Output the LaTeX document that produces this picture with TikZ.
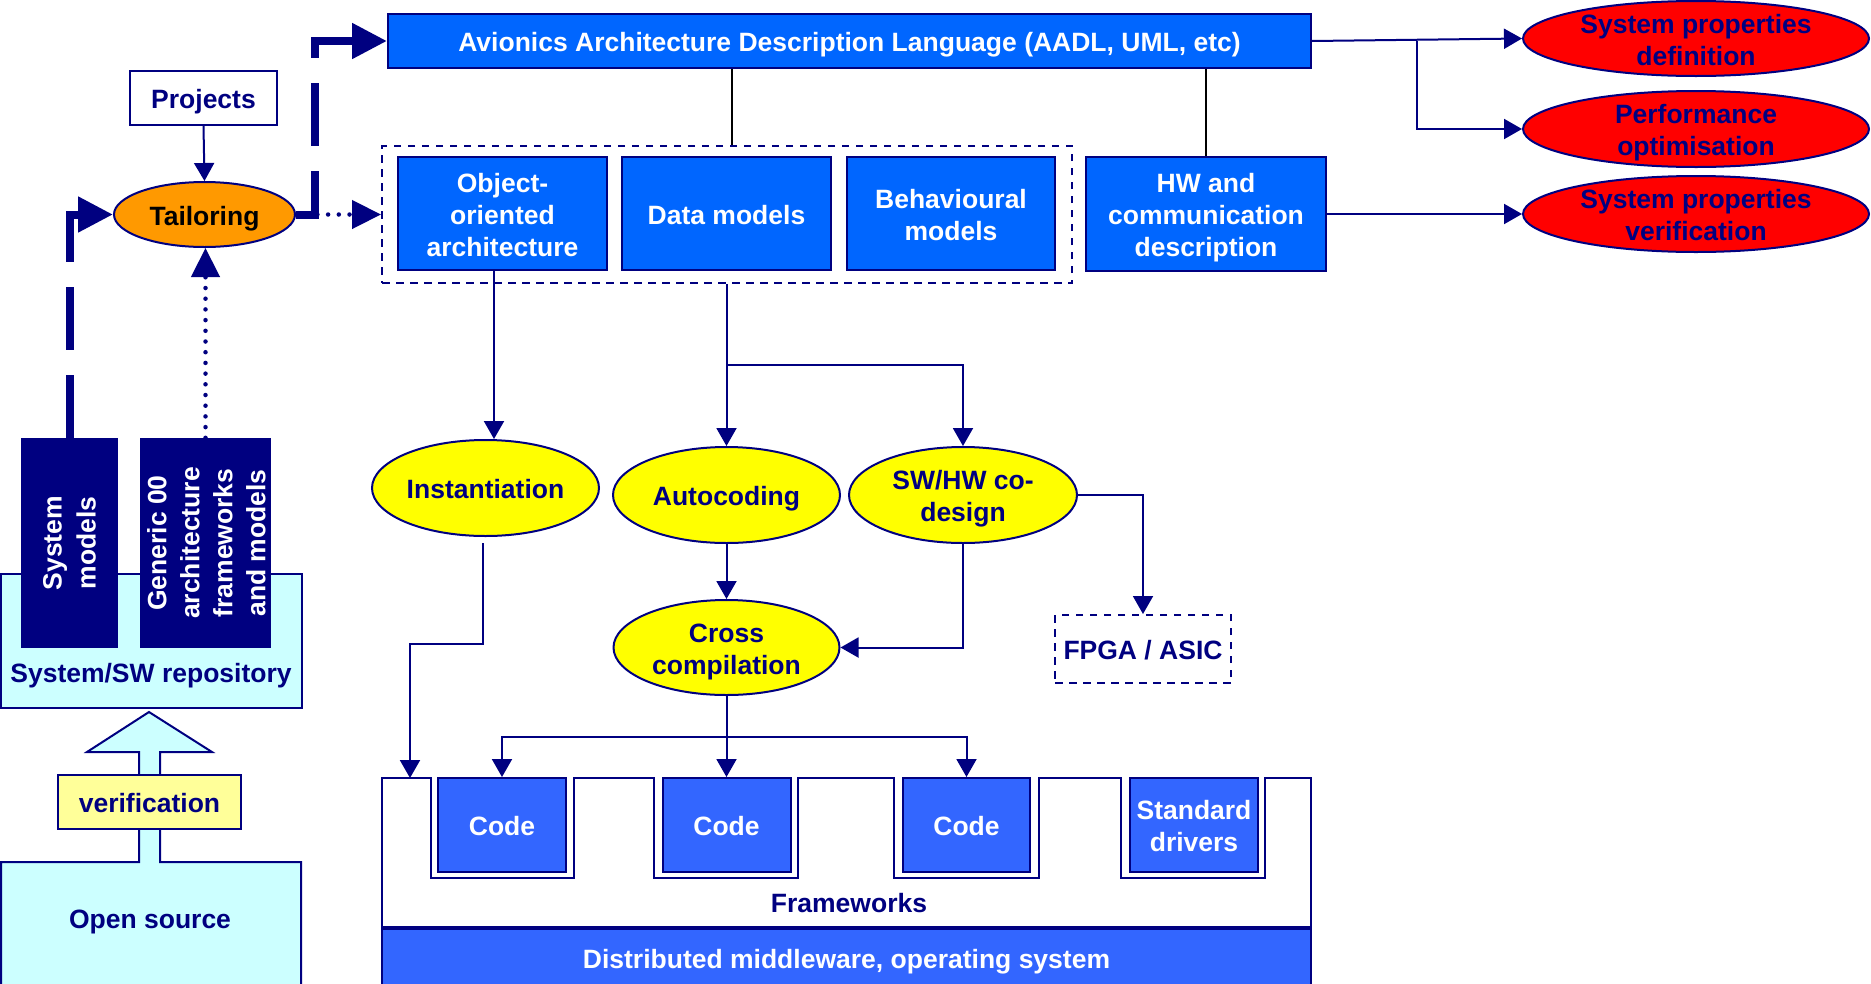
\documentclass[tikz,border=0pt]{standalone}
\usepackage{fontspec}
\setmainfont{Liberation Sans}
\usetikzlibrary{arrows.meta,shapes.geometric,calc}
\definecolor{navy}{RGB}{0,0,128}
\definecolor{bblue}{RGB}{0,102,255}
\definecolor{cblue}{RGB}{51,102,255}
\definecolor{lcyan}{RGB}{204,255,255}
\definecolor{lyellow}{RGB}{255,255,153}
\definecolor{orangec}{RGB}{255,153,0}
\definecolor{redc}{RGB}{255,0,0}
\definecolor{yellowc}{RGB}{255,255,0}
\newcommand{\fst}{\rule{0pt}{27.4pt}}
\begin{document}
\begin{tikzpicture}[x=1pt,y=-1pt,
  font=\fontsize{26.5}{32}\selectfont\bfseries,
  vc/.style={execute at begin node={\rule{0pt}{27.4pt}}, execute at end node={\rule[-6pt]{0pt}{6pt}}},
  vcm/.style={execute at end node={\rule[-6pt]{0pt}{6pt}}},
  box/.style={draw=navy, line width=2pt, inner sep=0pt, align=center, text=white},
  bluebox/.style={box, fill=bblue},
  codebox/.style={box, fill=cblue},
  yell/.style={ellipse, draw=navy, line width=2pt, fill=yellowc, inner sep=0pt, align=center, text=navy},
  redell/.style={ellipse, draw=navy, line width=2pt, fill=redc, inner sep=0pt},
  conn/.style={draw=navy, line width=2pt},
  arr/.style={conn, -{Triangle[length=18pt,width=20pt]}},
  thickarr/.style={draw=navy, line width=8pt, dash pattern=on 63pt off 25pt, -{Triangle[length=35pt,width=34pt]}},
  dotarr/.style={draw=navy, line width=4.5pt, line cap=round, dash pattern=on 0pt off 10.7pt, -{Triangle[length=29pt,width=28pt]}},
  dashbox/.style={draw=navy, line width=2pt, dash pattern=on 7.5pt off 6.5pt, inner sep=0pt},
  blk/.style={draw=black, line width=1.5pt},
  navytext/.style={text=navy, inner sep=0pt, align=center}
]
\useasboundingbox (0,0) rectangle (1871,983);

% ---------- top ----------
\node[bluebox, vc, minimum width=923pt, minimum height=54pt] (aadl) at (849.5,41) {Avionics Architecture Description Language (AADL, UML, etc)};
\node[draw=navy, line width=2pt, fill=white, text=navy, minimum width=147pt, minimum height=54pt, inner sep=0pt, vc] (proj) at (203.5,98) {Projects};
\node[ellipse, draw=navy, line width=2pt, fill=orangec, text=black, minimum width=181pt, minimum height=65pt, inner sep=0pt, vc] (tail) at (204.5,214.5) {Tailoring};

\node[dashbox, minimum width=690pt, minimum height=137pt] (grp) at (727,214.5) {};
\node[bluebox, vcm, minimum width=209pt, minimum height=113pt] (oo) at (502.5,213.5) {\fst Object-\\oriented\\architecture};
\node[bluebox, vc, minimum width=209pt, minimum height=113pt] (dm) at (726.5,213.5) {Data models};
\node[bluebox, vcm, minimum width=208pt, minimum height=113pt] (bm) at (951,213.5) {\fst Behavioural\\models};
\node[bluebox, vcm, minimum width=240pt, minimum height=114pt] (hw) at (1206,214) {\fst HW and\\communication\\description};

\node[redell, minimum width=346pt, minimum height=75pt] (e1) at (1696,38.5) {};
\node[navytext, vcm] (e1t) at (e1) {\fst System properties\\definition};
\node[redell, minimum width=346pt, minimum height=76pt] (e2) at (1696,129) {};
\node[navytext, vcm] (e2t) at (e2) {\fst Performance\\optimisation};
\node[redell, minimum width=346pt, minimum height=76pt] (e3) at (1696,214) {};
\node[navytext, vcm] (e3t) at (e3) {\fst System properties\\verification};

% ---------- middle ----------
\node[yell, vc, minimum width=227pt, minimum height=96pt] (inst) at (485.5,488) {Instantiation};
\node[yell, vc, minimum width=227pt, minimum height=96pt] (auto) at (726.5,495) {Autocoding};
\node[yell, vcm, minimum width=228pt, minimum height=96pt] (swhw) at (963,495) {\fst SW/HW co-\\design};
\node[yell, vcm, minimum width=226pt, minimum height=95pt] (cross) at (726.5,647.5) {\fst Cross\\compilation};
\node[dashbox, fill=white, text=navy, minimum width=176pt, minimum height=68pt, vc] (fpga) at (1143,649) {FPGA / ASIC};

% ---------- left ----------
\node[draw=navy, line width=2pt, fill=lcyan, minimum width=301pt, minimum height=134pt, inner sep=0pt] (repo) at (151.5,641) {};
\node[navytext, vc] (repot) at (151,672) {System/SW repository};
\node[fill=navy, minimum width=97pt, minimum height=210pt, inner sep=0pt] (sysm) at (69.5,543) {};
\node[text=white, rotate=90, align=center, inner sep=0pt, font=\fontsize{26.5}{34}\selectfont\bfseries] (sysmt) at (sysm) {System\\models};
\node[fill=navy, minimum width=131pt, minimum height=210pt, inner sep=0pt] (gen) at (205.5,543) {};
\node[text=white, rotate=90, align=center, inner sep=0pt, font=\fontsize{26.5}{33}\selectfont\bfseries] (gent) at (206.5,543) {Generic 00\\architecture\\frameworks\\and models};

\path[draw=navy, line width=2pt, fill=lcyan] (1,862) -- (139,862) -- (139,752) -- (87,752) -- (149,712) -- (212,752) -- (160,752) -- (160,862) -- (301,862) -- (301,995) -- (1,995) -- cycle;
\node[draw=navy, line width=2pt, fill=lyellow, text=navy, minimum width=183pt, minimum height=54pt, inner sep=0pt, vc] (verif) at (149.5,802) {verification};
\node[navytext, vc] (osrc) at (150,918) {Open source};

% ---------- bottom ----------
\path[draw=navy, line width=2pt, fill=white] (382,778) -- (431,778) -- (431,878) -- (574,878) -- (574,778) -- (654,778) -- (654,878) -- (798,878) -- (798,778) -- (894,778) -- (894,878) -- (1039,878) -- (1039,778) -- (1121,778) -- (1121,878) -- (1265,878) -- (1265,778) -- (1311,778) -- (1311,927) -- (382,927) -- cycle;
\node[navytext, vc] (fw) at (849,902) {Frameworks};
\node[codebox, vc, minimum width=128pt, minimum height=94pt] (code1) at (502,825) {Code};
\node[codebox, vc, minimum width=128pt, minimum height=94pt] (code2) at (726.5,825) {Code};
\node[codebox, vc, minimum width=127pt, minimum height=94pt] (code3) at (966.5,825) {Code};
\node[codebox, vcm, minimum width=128pt, minimum height=94pt] (std) at (1194,825) {\fst Standard\\drivers};
\node[codebox, vc, minimum width=929pt, minimum height=58pt] (dist) at (846.5,958) {Distributed middleware, operating system};
\coordinate (fwt) at (410,778);

% ---------- connectors ----------
\coordinate (g1) at ($(grp.north)+(5,0)$);
\draw[blk] (g1) -- (g1 |- aadl.south);
\draw[blk] (hw.north) -- (hw.north |- aadl.south);
\draw[arr] (aadl.east) -- (e1.west);
\coordinate (b1) at ($(aadl.east)+(105,0)$);
\draw[arr] (b1) |- (e2.west);
\draw[arr] (hw.east) -- (e3.west);

\draw[arr] (proj.south) -- (tail.north);
\draw[dotarr] (tail.east) -- (grp.west);
\draw[dotarr] (gen.north) -- (gen.north |- tail.south);
\draw[thickarr] (sysm.north) |- (tail.west);
\draw[thickarr] (tail.east) -- ++(19,0) |- (aadl.west);

\coordinate (oo1) at (494,270);
\draw[arr] (oo1) -- (oo1 |- inst.north);
\draw[arr] (grp.south -| auto.north) -- (auto.north);
\coordinate (b2) at (726.5,365);
\draw[arr] (b2) -| (swhw.north);
\draw[arr] (auto.south) -- (cross.north);
\draw[arr] (swhw.south) |- (cross.east);
\draw[arr] (swhw.east) -| (fpga.north);

\coordinate (i1) at (483,543);
\draw[arr] (i1) -- ++(0,101) -| (fwt);
\draw[arr] (cross.south) -- (code2.north);
\coordinate (b3) at (726.5,737);
\draw[arr] (b3) -| (code1.north);
\draw[arr] (b3) -| (code3.north);
\end{tikzpicture}
\end{document}
